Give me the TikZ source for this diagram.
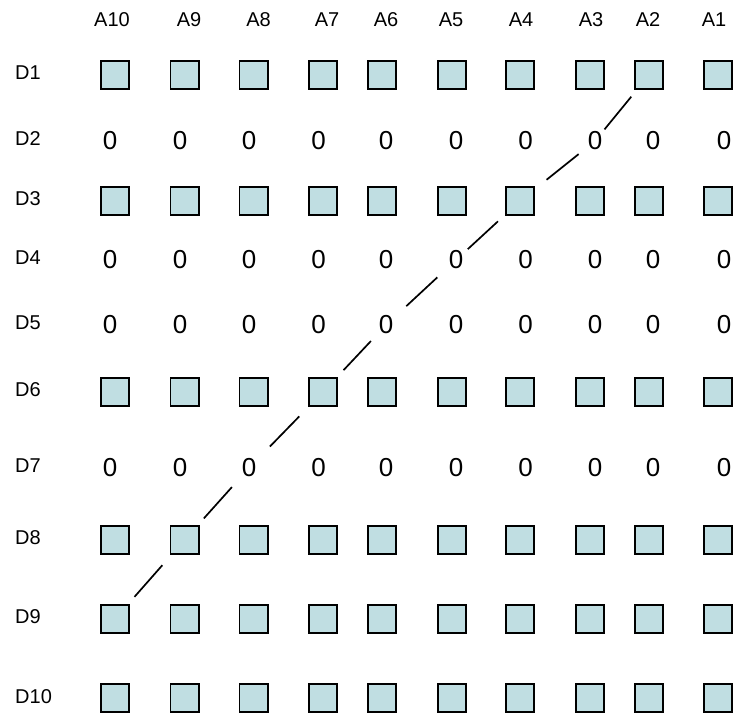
\documentclass[tikz,border=0pt]{standalone}
\usepackage{fontspec}
\setmainfont{Liberation Sans}
\definecolor{cellfill}{RGB}{192,222,226}
\begin{document}
\begin{tikzpicture}[x=1pt,y=-1pt,
  cell/.style={draw=black, line width=1.8pt, fill=cellfill, minimum size=28.2pt, inner sep=0pt},
  zero/.style={font=\fontsize{26}{30}\selectfont, inner sep=0pt},
  lab/.style={font=\fontsize{20}{22}\selectfont, inner sep=0pt},
  link/.style={line width=1.7pt}]
\useasboundingbox (0,0) rectangle (735,715);
% column labels
\foreach \a/\x in {10/112,9/189,8/258.5,7/327,6/386,5/451,4/521,3/591,2/648,1/714}
  \node[lab] (a\a) at (\x,20) {A\a};
% row labels
\foreach \r/\y in {1/73,2/139,3/199,4/258,5/323,6/390,7/466,8/538,9/617,10/697}
  \node[lab, anchor=west] (d\r) at (15,\y) {D\r};
% square cells
\foreach \r/\y in {1/75,3/201,6/392,8/540,9/619,10/698}
  \foreach \a/\x in {10/115,9/184.5,8/253.5,7/323,6/382,5/452,4/520,3/590,2/649,1/718}
    \node[cell] (n\r-\a) at (\x,\y) {};
% zero cells
\foreach \r/\y in {2/141,4/260,5/325,7/468}
  \foreach \a/\x in {10/110,9/180,8/249,7/318.5,6/386,5/456,4/525.5,3/595,2/653,1/724}
    \node[zero] (n\r-\a) at (\x,\y) {0};
% diagonal links
\draw[link, shorten <=28pt, shorten >=15pt] (n1-2.center) -- (n2-3.center);
\draw[link, shorten <=21pt, shorten >=34pt] (n2-3.center) -- (n3-4.center);
\draw[link, shorten <=30pt, shorten >=16pt] (n3-4.center) -- (n4-5.center);
\draw[link, shorten <=25.5pt, shorten >=27.7pt] (n4-5.center) -- (n5-6.center);
\draw[link, shorten <=22pt, shorten >=30pt] (n5-6.center) -- (n6-7.center);
\draw[link, shorten <=34pt, shorten >=30pt] (n6-7.center) -- (n7-8.center);
\draw[link, shorten <=25.6pt, shorten >=29pt] (n7-8.center) -- (n8-9.center);
\draw[link, shorten <=33.6pt, shorten >=29.5pt] (n8-9.center) -- (n9-10.center);
\end{tikzpicture}
\end{document}
